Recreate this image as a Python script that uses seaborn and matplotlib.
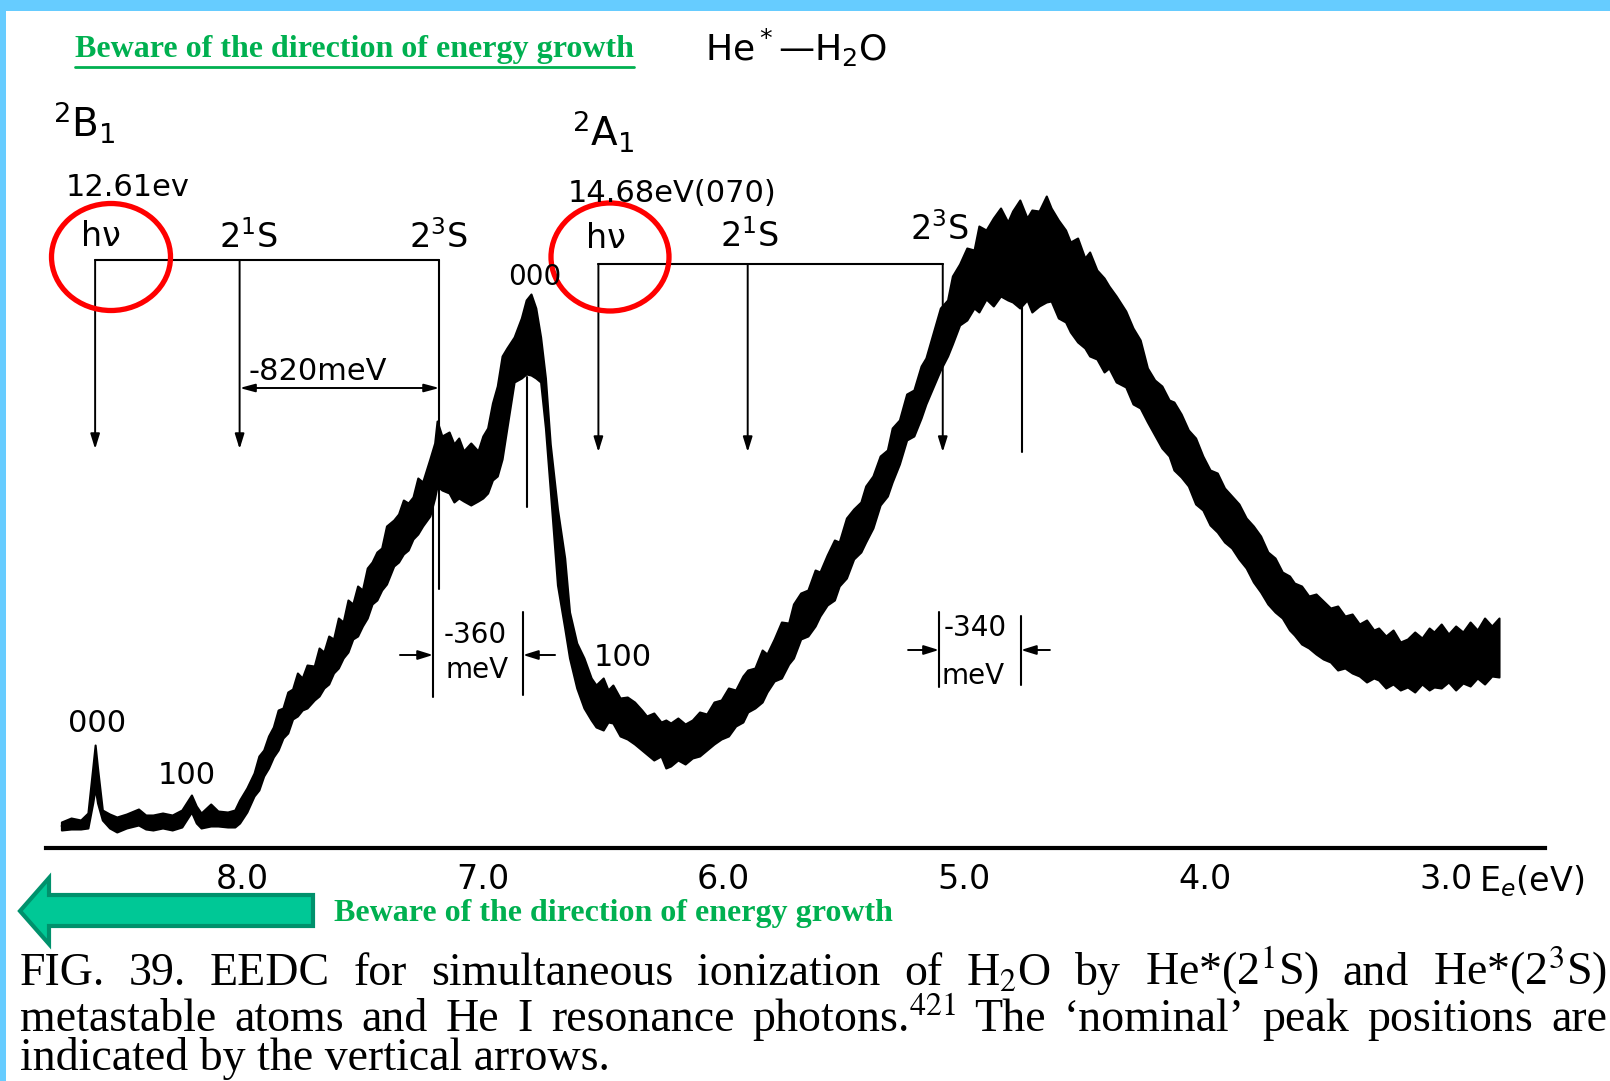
import pandas as pd
import seaborn as sns
import matplotlib.pyplot as plt
from matplotlib import font_manager
from matplotlib.patches import Ellipse, Polygon, Rectangle

sns.set_style("white")

# electron energy (eV) with upper / lower edge of the noisy trace (arb. units)
energy = [8.75, 8.71, 8.67, 8.64, 8.62, 8.61, 8.60, 8.58, 8.55, 8.52, 8.48, 8.43,
          8.40, 8.37, 8.33, 8.29, 8.25, 8.21, 8.19, 8.17, 8.13, 8.10, 8.06, 8.03,
          8.01, 7.98, 7.95, 7.93, 7.91, 7.89, 7.87, 7.85, 7.83, 7.81, 7.79, 7.77,
          7.75, 7.73, 7.70, 7.68, 7.66, 7.64, 7.62, 7.60, 7.58, 7.56, 7.54, 7.52,
          7.50, 7.48, 7.46, 7.44, 7.42, 7.40, 7.37, 7.35, 7.33, 7.31, 7.29, 7.27,
          7.25, 7.22, 7.20, 7.19, 7.17, 7.14, 7.12, 7.10, 7.08, 7.05, 7.02, 7.00,
          6.98, 6.96, 6.94, 6.92, 6.90, 6.87, 6.84, 6.82, 6.80, 6.78, 6.76, 6.74,
          6.72, 6.69, 6.66, 6.64, 6.61, 6.58, 6.55, 6.53, 6.50, 6.48, 6.46, 6.43,
          6.40, 6.37, 6.34, 6.32, 6.29, 6.26, 6.24, 6.22, 6.19, 6.16, 6.13, 6.10,
          6.07, 6.04, 6.01, 5.98, 5.95, 5.92, 5.90, 5.87, 5.84, 5.82, 5.79, 5.76,
          5.73, 5.71, 5.68, 5.65, 5.62, 5.60, 5.57, 5.54, 5.52, 5.49, 5.46, 5.43,
          5.41, 5.38, 5.35, 5.32, 5.30, 5.27, 5.24, 5.21, 5.18, 5.16, 5.13, 5.10,
          5.07, 5.05, 5.02, 4.99, 4.96, 4.94, 4.91, 4.88, 4.85, 4.82, 4.80, 4.77,
          4.74, 4.72, 4.69, 4.66, 4.64, 4.61, 4.58, 4.56, 4.53, 4.50, 4.48, 4.45,
          4.42, 4.40, 4.37, 4.33, 4.30, 4.27, 4.24, 4.21, 4.18, 4.15, 4.13, 4.10,
          4.07, 4.04, 4.01, 3.98, 3.95, 3.92, 3.89, 3.86, 3.83, 3.80, 3.77, 3.74,
          3.71, 3.68, 3.65, 3.63, 3.60, 3.57, 3.54, 3.51, 3.48, 3.45, 3.42, 3.39,
          3.36, 3.33, 3.30, 3.28, 3.25, 3.22, 3.19, 3.16, 3.13, 3.10, 3.07, 3.05,
          3.02, 2.99, 2.96, 2.93, 2.90, 2.87, 2.84, 2.81, 2.78]
upper = [26, 30, 28, 35, 80, 103, 80, 38, 34, 31, 34, 39,
         33, 33, 35, 33, 38, 53, 42, 35, 44, 37, 36, 38,
         48, 60, 75, 92, 98, 112, 121, 138, 140, 156, 159, 175,
         170, 183, 182, 200, 196, 212, 209, 230, 226, 248, 244, 262,
         258, 280, 286, 296, 300, 322, 328, 334, 348, 345, 351, 370,
         366, 389, 405, 427, 412, 416, 404, 410, 397, 405, 397, 412,
         420, 445, 462, 492, 500, 511, 530, 548, 554, 540, 511, 470,
         404, 339, 290, 236, 205, 190, 170, 163, 170, 158, 163, 150,
         151, 146, 138, 132, 135, 126, 128, 125, 130, 124, 128, 136,
         134, 146, 148, 160, 158, 172, 178, 180, 198, 194, 209, 226,
         225, 244, 255, 258, 278, 276, 293, 308, 306, 330, 339, 346,
         362, 372, 392, 398, 420, 428, 454, 458, 482, 490, 515, 540,
         548, 572, 584, 600, 598, 622, 618, 630, 640, 626, 637, 648,
         630, 638, 637, 652, 640, 628, 618, 606, 610, 590, 596, 578,
         570, 562, 552, 537, 520, 508, 480, 468, 462, 448, 446, 434,
         418, 410, 392, 378, 375, 360, 352, 344, 330, 322, 312, 296,
         290, 276, 272, 265, 262, 252, 254, 247, 240, 242, 232, 234,
         224, 228, 218, 220, 212, 218, 206, 209, 216, 210, 220, 216,
         224, 214, 222, 216, 226, 218, 230, 222, 230]
lower = [18, 19, 19, 20, 45, 60, 45, 28, 20, 16, 20, 23,
         19, 18, 20, 18, 21, 36, 25, 20, 22, 22, 21, 21,
         25, 36, 52, 58, 72, 80, 91, 98, 110, 115, 129, 132,
         138, 140, 148, 152, 160, 164, 175, 180, 190, 196, 209, 212,
         222, 230, 244, 248, 258, 264, 282, 286, 294, 298, 309, 314,
         322, 332, 350, 362, 358, 355, 346, 350, 347, 343, 347, 350,
         355, 368, 372, 389, 420, 466, 470, 474, 473, 470, 466, 420,
         358, 263, 220, 190, 160, 140, 128, 121, 118, 126, 125, 112,
         109, 104, 98, 94, 88, 92, 80, 82, 88, 84, 90, 92,
         98, 104, 109, 112, 122, 126, 136, 140, 146, 156, 167, 170,
         184, 190, 209, 212, 222, 232, 243, 248, 262, 270, 289, 296,
         306, 320, 343, 352, 366, 384, 408, 412, 430, 444, 461, 478,
         492, 504, 523, 528, 540, 536, 549, 542, 552, 548, 546, 540,
         548, 536, 542, 546, 547, 530, 526, 516, 506, 500, 492, 489,
         476, 480, 466, 461, 444, 440, 426, 413, 400, 392, 378, 371,
         362, 344, 338, 323, 316, 306, 300, 289, 280, 266, 256, 244,
         236, 230, 218, 213, 204, 200, 194, 189, 186, 178, 180, 175,
         172, 166, 170, 168, 160, 164, 158, 161, 156, 164, 158, 161,
         160, 166, 158, 165, 162, 170, 164, 172, 171]
assert len(energy) == len(upper) == len(lower)

tick_vals = [8.0, 7.0, 6.0, 5.0, 4.0, 3.0]
tick_labels = ["8.0", "7.0", "6.0", "5.0", "4.0", "3.0"]

# nominal peak positions (hv, 2^1S, 2^3S) for the two ionic states
nominal_b1 = [8.61, 8.01, 7.18]
nominal_a1 = [6.52, 5.90, 5.09]
bracket_h = [588, 584]
arrow_end_h = [399, 396]
peak_000_a1 = 6.817
peak_23s_a1 = 4.762
shift_360 = [7.207, 6.833]
shift_340 = [5.106, 4.765]

names = {f.name for f in font_manager.fontManager.ttflist}
sans = "Liberation Sans Narrow" if "Liberation Sans Narrow" in names else "DejaVu Sans"
serif = "Liberation Serif"
green = "#00B050"

fig = plt.figure(figsize=(16.1, 10.81), dpi=100)
fig.patch.set_facecolor("white")

ax = fig.add_axes([46 / 1610, 233 / 1081, 1499 / 1610, 748 / 1081])
df = pd.DataFrame({"E": energy + energy, "I": upper + lower})
sns.lineplot(data=df, x="E", y="I", estimator="mean", errorbar=("pi", 100),
             color="black", lw=1.2, ax=ax,
             err_kws={"alpha": 1, "facecolor": "black", "edgecolor": "black", "linewidth": 1.5})
ax.set_xlim(8.814, 2.589)
ax.set_ylim(0, 748)
ax.set_xlabel("")
ax.set_ylabel("")
ax.set_yticks([])
ax.set_xticks(tick_vals)
ax.set_xticklabels(tick_labels, fontsize=24, family=sans)
ax.tick_params(axis="x", direction="in", length=11, width=1.6, pad=11, colors="black")
for s in ["left", "right", "top"]:
    ax.spines[s].set_visible(False)
ax.spines["bottom"].set_linewidth(3)
ax.spines["bottom"].set_color("black")
ax.patch.set_alpha(0)

arw = dict(arrowstyle="-|>,head_length=0.45,head_width=0.14", color="black", lw=1.4,
           mutation_scale=20, shrinkA=0, shrinkB=0)

# brackets and nominal arrows
for group, top, bot in [(nominal_b1, bracket_h[0], arrow_end_h[0]), (nominal_a1, bracket_h[1], arrow_end_h[1])]:
    ax.plot([group[0], group[-1]], [top, top], color="black", lw=1.5)
    for i, e in enumerate(group):
        if group is nominal_b1 and i == 2:
            ax.plot([e, e], [top, 259], color="black", lw=1.5)
        else:
            ax.annotate("", xy=(e, bot), xytext=(e, top), arrowprops=arw)

ax.plot([peak_000_a1, peak_000_a1], [341, 471], color="black", lw=1.5)
ax.plot([peak_23s_a1, peak_23s_a1], [396, 550], color="black", lw=1.5)

# -820 meV double arrow
ax.annotate("", xy=(nominal_b1[2], 460), xytext=(nominal_b1[1], 460),
            arrowprops=dict(arrowstyle="<|-|>,head_length=0.45,head_width=0.12", color="black",
                            lw=1.4, mutation_scale=20, shrinkA=0, shrinkB=0))

# -360 / -340 meV markers
for (e1, e2), lo, hi, ya, out in [(shift_360, (151, 153), (365, 236), 193, (7.344, 6.700)),
                                  (shift_340, (161, 163), (236, 232), 198, (5.234, 4.645))]:
    ax.plot([e1, e1], [lo[0], hi[0]], color="black", lw=1.5)
    ax.plot([e2, e2], [lo[1], hi[1]], color="black", lw=1.5)
    ax.annotate("", xy=(e1, ya), xytext=(out[0], ya), arrowprops=arw)
    ax.annotate("", xy=(e2, ya), xytext=(out[1], ya), arrowprops=arw)

# overlay in pixel coordinates for the decorations
ov = fig.add_axes([0, 0, 1, 1])
ov.set_xlim(0, 1610)
ov.set_ylim(1081, 0)
ov.axis("off")
ov.patch.set_alpha(0)

ov.add_patch(Rectangle((0, 0), 1610, 11, color="#66CCFF", lw=0))
ov.add_patch(Rectangle((0, 0), 6, 1081, color="#66CCFF", lw=0))


def label(x, y, s, size=22, ha="center"):
    ov.text(x, y, s, fontsize=size, ha=ha, va="center", family=sans, color="black")


label(53, 122, r"$^2$B$_1$", 28, "left")
label(66, 187, "12.61ev", 22, "left")
label(101, 236, "hν", 24)
label(248, 238, r"2$^1$S", 24)
label(438, 238, r"2$^3$S", 24)
label(572, 131, r"$^2$A$_1$", 28, "left")
label(568, 193, "14.68eV(070)", 22, "left")
label(606, 238, "hν", 24)
label(749, 237, r"2$^1$S", 24)
label(939, 230, r"2$^3$S", 24)
label(535, 277, "000", 20)
label(623, 657, "100", 22)
label(97, 723, "000", 22)
label(187, 776, "100", 22)
label(318, 371, "-820meV", 22)
label(475, 635, "-360", 20)
label(477, 670, "meV", 20)
label(975, 628, "-340", 20)
label(973, 676, "meV", 20)
label(705, 48, r"He$^*$—H$_2$O", 26, "left")
label(1479, 881, r"E$_e$(eV)", 24, "left")

ov.add_patch(Ellipse((111, 257), 119, 107, fill=False, ec="#FF0000", lw=3.8))
ov.add_patch(Ellipse((610, 257), 118, 108, fill=False, ec="#FF0000", lw=3.8))

ov.add_patch(Polygon([(20, 911), (49, 878), (49, 895), (313, 895), (313, 926), (49, 926), (49, 944)],
                     closed=True, facecolor="#00C896", edgecolor="#00916C", lw=3))

t_top = ov.text(75, 50, "Beware of the direction of energy growth", fontsize=23, family=serif,
                weight="bold", color=green, ha="left", va="center")
ov.text(334, 914, "Beware of the direction of energy growth", fontsize=23, family=serif,
        weight="bold", color=green, ha="left", va="center")

fig.canvas.draw()
r = fig.canvas.get_renderer()
w_top = t_top.get_window_extent(r).width
ov.plot([75, 75 + w_top], [67, 67], color=green, lw=2)

caption = [
    ["FIG.", "39.", "EEDC", "for", "simultaneous", "ionization", "of", r"H$_2$O", "by",
     r"He*(2$^1$S)", "and", r"He*(2$^3$S)"],
    ["metastable", "atoms", "and", "He", "I", "resonance", r"photons.$^{421}$", "The",
     "‘nominal’", "peak", "positions", "are"],
]


def justify(words, y, x0=20, x1=1607):
    ts = [ov.text(0, y, w, fontsize=33, family=serif, math_fontfamily="stix",
                  ha="left", va="baseline", color="black") for w in words]
    widths = [t.get_window_extent(r).width for t in ts]
    gap = (x1 - x0 - sum(widths)) / (len(ts) - 1)
    x = x0
    for t, w in zip(ts, widths):
        t.set_x(x)
        x += w + gap


justify(caption[0], 985)
justify(caption[1], 1031)
ov.text(20, 1070, "indicated by the vertical arrows.", fontsize=33, family=serif,
        ha="left", va="baseline", color="black")

fig.savefig("out.png", dpi=100, facecolor="white")
